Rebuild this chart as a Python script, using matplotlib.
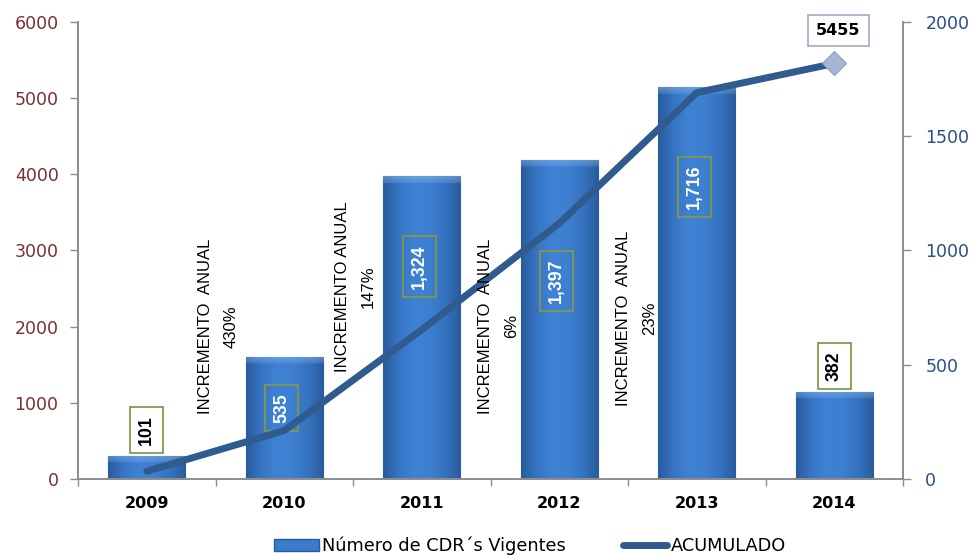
import matplotlib

matplotlib.use("Agg")
import matplotlib.pyplot as plt  # noqa: E402
import numpy as np  # noqa: E402
from matplotlib.colors import LinearSegmentedColormap  # noqa: E402
from matplotlib.lines import Line2D  # noqa: E402
from matplotlib.patches import Patch  # noqa: E402

# Chart data
years = ["2009", "2010", "2011", "2012", "2013", "2014"]
vigentes = [101, 535, 1324, 1397, 1716, 382]
acumulado = [101, 636, 1960, 3357, 5073, 5455]
vigentes_text = ["101", "535", "1,324", "1,397", "1,716", "382"]
incremento = ["430%", "147%", "6%", "23%"]
incremento_head = ["INCREMENTO  ANUAL", "INCREMENTO ANUAL", "INCREMENTO  ANUAL", "INCREMENTO  ANUAL"]

# Layout of the growth notes (category x, left-axis y) and inner label heights (right axis)
incr_pos = [(0.52, 2000), (1.52, 2530), (2.56, 2010), (3.56, 2110)]
inside_label_y = [None, 310, 930, 866, 1278, None]

BAR_MID = "#3a7ccb"
BAR_EDGE = "#2a5b99"
LINE_COLOR = "#2f5b8e"
NARROW = ["Liberation Sans Narrow", "Liberation Sans", "DejaVu Sans"]
LABEL_FONT = ["Liberation Sans", "DejaVu Sans"]

plt.rcParams["font.family"] = ["DejaVu Sans"]

fig = plt.figure(figsize=(9.73, 5.56), dpi=100)
ax = fig.add_axes([0.0802, 0.1385, 0.848, 0.822])
ax2 = ax.twinx()
ax.set_zorder(ax2.get_zorder() + 1)
ax.patch.set_visible(False)

x = np.arange(len(years))
bars = ax2.bar(x, vigentes, width=0.56, color=BAR_MID, edgecolor=BAR_EDGE, linewidth=0.8, zorder=2)

# bevel-like shading for each bar: darker sides, lighter top strip
shade = LinearSegmentedColormap.from_list(
    "bar", ["#2a5c9e", "#3775c4", "#3f82d4", "#3d7fd0", "#3573c0", "#2a5c9e"])
bevel_units = 7 * 2000 / 457
for rect in bars:
    x0, w, h = rect.get_x(), rect.get_width(), rect.get_height()
    rows = 300
    grad = np.tile(np.linspace(0, 1, 120), (rows, 1))
    rgba = shade(grad)
    yy = np.linspace(h, 0, rows)
    depth = np.clip((h - yy) / bevel_units, 0, 1)
    mix = np.where(depth < 1, 0.45 * (1 - depth * 0.6), 0.0)[:, None, None]
    rgba[:, :, :3] = rgba[:, :, :3] * (1 - mix) + np.array([0.60, 0.76, 0.94]) * mix
    im = ax2.imshow(rgba, extent=(x0, x0 + w, 0, h), aspect="auto", zorder=2.1, interpolation="bilinear")
    im.set_clip_path(rect)

# cumulative line on the left axis
ax.plot(x, acumulado, color=LINE_COLOR, linewidth=5, solid_capstyle="round", solid_joinstyle="round", zorder=3)
ax.plot(x[-1], acumulado[-1], marker="D", markersize=12, color="#a4b6d0",
        markeredgecolor="#8b9fbd", markeredgewidth=0.8, zorder=4)

ax.set_xlim(-0.5, len(years) - 0.5)
ax.set_ylim(0, 6000)
ax2.set_ylim(0, 2000)
ax.set_yticks(range(0, 6001, 1000))
ax2.set_yticks(range(0, 2001, 500))

ax.set_xticks(x)
ax.set_xticklabels(years, fontsize=11.5, fontweight="bold", color="black")
ax.set_xticks(np.arange(-0.5, len(years)), minor=True)
ax.tick_params(axis="x", which="major", length=0, pad=12)
ax.tick_params(axis="x", which="minor", length=5, color="#8c8c8c", width=1)
ax.tick_params(axis="y", length=6, color="#8c8c8c", width=1, labelsize=12.5, labelcolor="#7a3030", pad=8)
ax2.tick_params(axis="y", length=6, color="#8c8c8c", width=1, labelsize=12.5, labelcolor="#2a4f85", pad=10)

for a in (ax, ax2):
    a.spines["top"].set_visible(False)
    for side in ("left", "right", "bottom"):
        a.spines[side].set_color("#8c8c8c")
        a.spines[side].set_linewidth(1.2)

# value labels on the bars
for i, (v, txt) in enumerate(zip(vigentes, vigentes_text)):
    if inside_label_y[i] is None:
        ax2.annotate(txt, (x[i], v), xytext=(0, 8), textcoords="offset points",
                     rotation=90, ha="center", va="bottom", fontsize=12.8, fontweight="bold",
                     family=LABEL_FONT, color="black", zorder=5,
                     bbox=dict(boxstyle="square,pad=0.45", fc="white", ec="#77933c", lw=1.2))
    else:
        ax2.text(x[i] - 0.02, inside_label_y[i], txt, rotation=90, ha="center", va="center",
                 fontsize=12.8, fontweight="bold", family=LABEL_FONT, color="white", zorder=5,
                 bbox=dict(boxstyle="square,pad=0.45", fc="none", ec="#8a9a3c", lw=1.2))

# total on the last point of the cumulative line
ax.annotate(str(acumulado[-1]), (x[-1], acumulado[-1]), xytext=(3, 24), textcoords="offset points",
            ha="center", va="center", fontsize=11.5, fontweight="bold", color="black", zorder=6,
            bbox=dict(boxstyle="square,pad=0.5", fc="white", ec="#b3a2c7", lw=1.2))

# yearly growth notes between the bars
for (px, py), head, pct in zip(incr_pos, incremento_head, incremento):
    ax.text(px, py, f"{head}\n{pct}", rotation=90, ha="center", va="center", multialignment="center",
            fontsize=12, family=NARROW, color="black", linespacing=1.9, zorder=5)

handles = [
    Patch(facecolor=BAR_MID, edgecolor=BAR_EDGE, label="Número de CDR´s Vigentes"),
    Line2D([0], [0], color=LINE_COLOR, linewidth=5, solid_capstyle="round", label="ACUMULADO"),
]
fig.legend(handles=handles, loc="center", bbox_to_anchor=(0.545, 0.018), ncol=2, frameon=False,
           fontsize=12.8, columnspacing=3.2, handlelength=2.5, handletextpad=0.2)

fig.savefig("out.png", dpi=100)
